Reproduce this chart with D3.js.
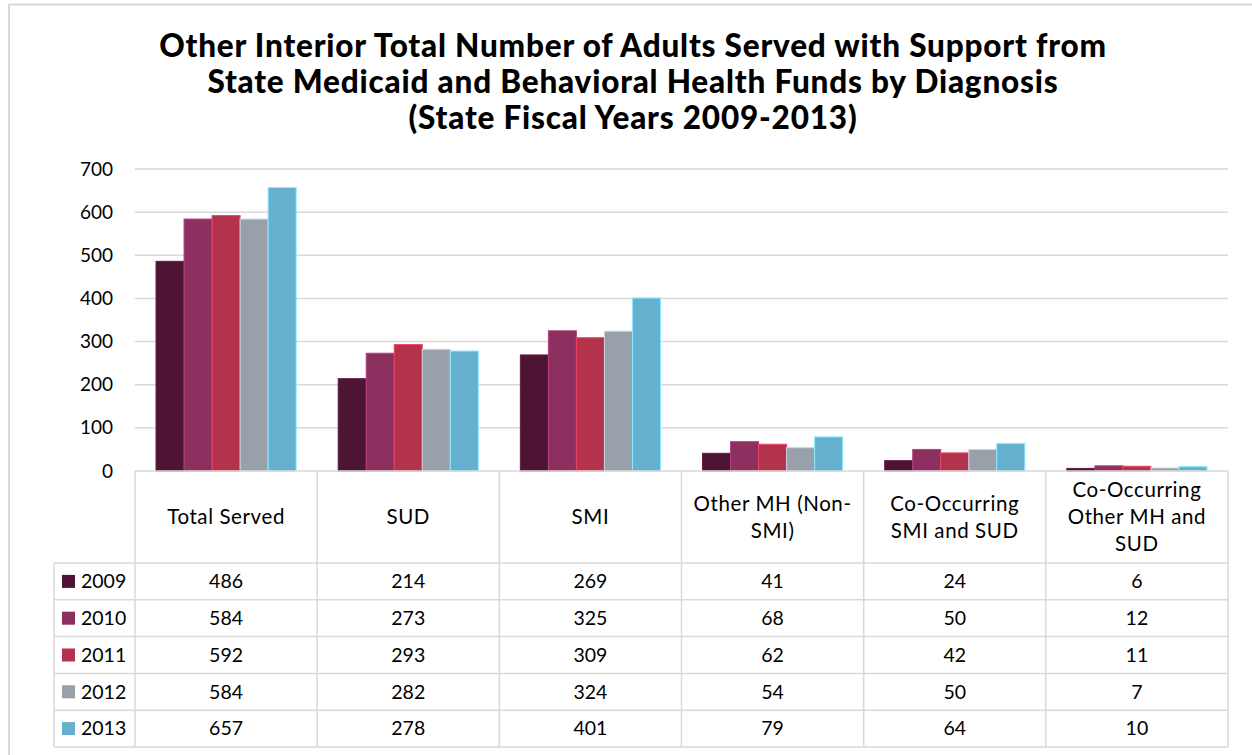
<!DOCTYPE html>
<html>
<head>
<meta charset="utf-8">
<script src="https://cdn.jsdelivr.net/npm/d3@7"></script>
<style>
  html, body { margin: 0; padding: 0; background: #fff; }
  svg { display: block; }
  text { font-family: Lato, "Open Sans", sans-serif; fill: #000; }
</style>
</head>
<body>
<svg id="chart" width="1252" height="755"></svg>
<script>
const categories = [
  ["Total Served"],
  ["SUD"],
  ["SMI"],
  ["Other MH (Non-", "SMI)"],
  ["Co-Occurring", "SMI and SUD"],
  ["Co-Occurring", "Other MH and", "SUD"]
];
const years = ["2009", "2010", "2011", "2012", "2013"];
const v2009 = [486, 214, 269, 41, 24, 6];
const v2010 = [584, 273, 325, 68, 50, 12];
const v2011 = [592, 293, 309, 62, 42, 11];
const v2012 = [584, 282, 324, 54, 50, 7];
const v2013 = [657, 278, 401, 79, 64, 10];
const seriesValues = [v2009, v2010, v2011, v2012, v2013];
const colors = ["#4d1434", "#8c3060", "#b2334b", "#98a0aa", "#66b0cf"];
const yTicks = [0, 100, 200, 300, 400, 500, 600, 700];
const titleLines = [
  "Other Interior Total Number of Adults Served with Support from",
  "State Medicaid and Behavioral Health Funds by Diagnosis",
  "(State Fiscal Years 2009-2013)"
];

const svg = d3.select("#chart");
const gridColor = "#d9d9d9";

// outer frame
svg.append("line").attr("x1", 9).attr("x2", 1252).attr("y1", 4.5).attr("y2", 4.5)
  .attr("stroke", "#d9d9d9").attr("stroke-width", 2);
svg.append("line").attr("x1", 9).attr("x2", 9).attr("y1", 4).attr("y2", 755)
  .attr("stroke", "#d9d9d9").attr("stroke-width", 2);

// title
svg.append("g").selectAll("text").data(titleLines).join("text")
  .attr("x", 633).attr("y", (d, i) => 57 + i * 36)
  .attr("text-anchor", "middle")
  .style("font-weight", "900").style("font-size", "31.5px")
  .style("letter-spacing", "0.8px")
  .text(d => d);

const plotLeft = 135, plotRight = 1228, plotTop = 169, plotBase = 471;
const x = d3.scaleBand().domain(d3.range(categories.length)).range([plotLeft, plotRight]).padding(0);
const xi = d3.scaleBand().domain(d3.range(years.length))
  .range([0, x.bandwidth()]).paddingInner(0).paddingOuter(0.75);
const y = d3.scaleLinear().domain([0, 700]).range([plotBase, plotTop]);

// gridlines
svg.append("g").selectAll("line").data(yTicks.filter(t => t > 0)).join("line")
  .attr("x1", plotLeft).attr("x2", plotRight)
  .attr("y1", d => y(d)).attr("y2", d => y(d))
  .attr("stroke", gridColor).attr("stroke-width", 1.5);

// y-axis labels
const yAxis = d3.axisLeft(y).tickValues(yTicks).tickSize(0).tickPadding(0);
const ya = svg.append("g").attr("transform", `translate(113,0)`).call(yAxis);
ya.select(".domain").remove();
ya.selectAll("text").style("font-size", "19px").style("font-family", "Lato, sans-serif").attr("fill", "#000");

// bars
seriesValues.forEach((vals, s) => {
  svg.append("g").selectAll("rect").data(vals).join("rect")
    .attr("x", (d, i) => x(i) + xi(s))
    .attr("width", xi.bandwidth())
    .attr("y", d => y(d))
    .attr("height", d => plotBase - y(d))
    .attr("fill", colors[s])
    .attr("stroke", d3.color(colors[s]).brighter(0.8))
    .attr("stroke-width", 1);
});

// table
const headBottom = 563, rowH = 36.8, legLeft = 54;
const tbl = svg.append("g");
const lineAttr = sel => sel.attr("stroke", gridColor).attr("stroke-width", 1.5);
tbl.append("line").attr("x1", plotLeft).attr("x2", plotRight).attr("y1", plotBase).attr("y2", plotBase).call(lineAttr);
const colEdges = d3.range(categories.length + 1).map(i => i < categories.length ? x(i) : plotRight);
tbl.selectAll(".vcol").data(colEdges).join("line")
  .attr("x1", d => d).attr("x2", d => d).attr("y1", plotBase).attr("y2", headBottom + rowH * years.length)
  .call(lineAttr);
tbl.append("line").attr("x1", legLeft).attr("x2", legLeft).attr("y1", headBottom)
  .attr("y2", headBottom + rowH * years.length).call(lineAttr);
tbl.selectAll(".hrow").data(d3.range(years.length + 1)).join("line")
  .attr("x1", legLeft).attr("x2", plotRight)
  .attr("y1", d => headBottom + d * rowH).attr("y2", d => headBottom + d * rowH)
  .call(lineAttr);

// header labels
categories.forEach((lines, i) => {
  const cx = x(i) + x.bandwidth() / 2;
  const cy = (plotBase + headBottom) / 2;
  const lh = 27;
  tbl.append("text").attr("x", cx).attr("text-anchor", "middle")
    .style("font-size", "20.5px").style("letter-spacing", "0.6px")
    .selectAll("tspan").data(lines).join("tspan")
    .attr("x", cx)
    .attr("y", (d, k) => cy + (k - (lines.length - 1) / 2) * lh)
    .attr("dy", "0.35em")
    .text(d => d);
});

// legend + values
years.forEach((yr, r) => {
  const cy = headBottom + r * rowH + rowH / 2;
  tbl.append("rect").attr("x", 62).attr("y", cy - 6.5).attr("width", 13).attr("height", 13).attr("fill", colors[r]);
  tbl.append("text").attr("x", 81).attr("y", cy).attr("dy", "0.35em").style("font-size", "19.5px").text(yr);
  seriesValues[r].forEach((v, i) => {
    tbl.append("text").attr("x", x(i) + x.bandwidth() / 2).attr("y", cy).attr("dy", "0.35em")
      .attr("text-anchor", "middle").style("font-size", "19.5px").text(v);
  });
});
</script>
</body>
</html>
